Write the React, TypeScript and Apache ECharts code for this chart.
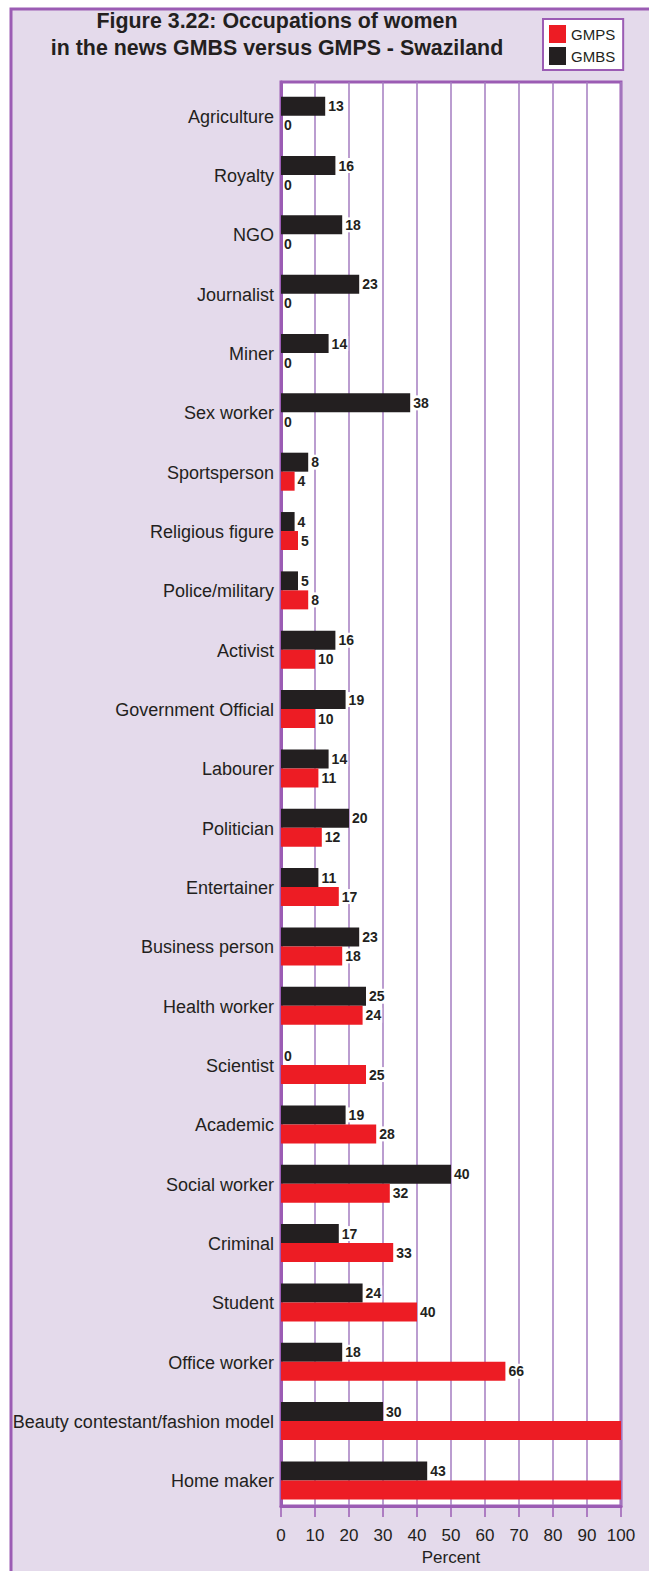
import React, { useEffect, useRef } from "react";
import * as echarts from "echarts";

const categories = [
  "Agriculture",
  "Royalty",
  "NGO",
  "Journalist",
  "Miner",
  "Sex worker",
  "Sportsperson",
  "Religious figure",
  "Police/military",
  "Activist",
  "Government Official",
  "Labourer",
  "Politician",
  "Entertainer",
  "Business person",
  "Health worker",
  "Scientist",
  "Academic",
  "Social worker",
  "Criminal",
  "Student",
  "Office worker",
  "Beauty contestant/fashion model",
  "Home maker",
];

// GMBS bar lengths as drawn (Social worker bar is drawn to 50 in the source, labelled 40)
const gmbsValues = [13, 16, 18, 23, 14, 38, 8, 4, 5, 16, 19, 14, 20, 11, 23, 25, 0, 19, 50, 17, 24, 18, 30, 43];
const gmbsLabels = ["13", "16", "18", "23", "14", "38", "8", "4", "5", "16", "19", "14", "20", "11", "23", "25", "0", "19", "40", "17", "24", "18", "30", "43"];
// GMPS (last two bars run off the scale, unlabelled)
const gmpsValues = [0, 0, 0, 0, 0, 0, 4, 5, 8, 10, 10, 11, 12, 17, 18, 24, 25, 28, 32, 33, 40, 66, 100, 100];
const gmpsLabelShown = [true, true, true, true, true, true, true, true, true, true, true, true, true, true, true, true, true, true, true, true, true, true, false, false];

const xTicks = { min: 0, max: 100, interval: 10 };

const PURPLE = "#9b5cb4";
const GRIDLINE = "#a57cc0";
const LAVENDER = "#e4daeb";
const INK = "#231f20";
const RED = "#ed1c24";
const FONT = "'Liberation Sans', Arial, sans-serif";

export default function App() {
  const ref = useRef<HTMLDivElement>(null);
  useEffect(() => {
    document.body.style.margin = "0";
    const chart = echarts.init(ref.current!, null, { renderer: "svg" });
    const valueLabel = {
      show: true,
      position: "right",
      distance: 2,
      fontFamily: FONT,
      fontWeight: "bold",
      fontSize: 14,
      color: INK,
      backgroundColor: "#fff",
      padding: [1, 1, 0, 1],
    };
    chart.setOption({
      animation: false,
      backgroundColor: "#ffffff",
      textStyle: { fontFamily: FONT },
      graphic: [
        {
          type: "rect",
          z: -1,
          shape: { x: 11, y: 9, width: 700, height: 1700 },
          style: { fill: LAVENDER, stroke: PURPLE, lineWidth: 3 },
        },
        {
          type: "text",
          x: 277,
          y: 7,
          scaleX: 0.93,
          style: {
            text: "Figure 3.22: Occupations of women\nin the news GMBS versus GMPS - Swaziland",
            fontFamily: FONT,
            fontWeight: "bold",
            fontSize: 23,
            lineHeight: 27,
            fill: INK,
            align: "center",
            verticalAlign: "top",
          },
        },
      ],
      legend: {
        left: 543,
        top: 19,
        orient: "vertical",
        data: ["GMPS", "GMBS"],
        backgroundColor: "#fff",
        borderColor: PURPLE,
        borderWidth: 2,
        borderRadius: 0,
        padding: [6, 8, 5, 6],
        itemWidth: 17,
        itemHeight: 18,
        itemGap: 4,
        icon: "rect",
        textStyle: { fontFamily: FONT, fontSize: 15, color: INK },
        selectedMode: false,
      },
      grid: {
        left: 281,
        right: 28,
        top: 82,
        bottom: 58,
        show: true,
        backgroundColor: "#fff",
        borderColor: PURPLE,
        borderWidth: 3,
      },
      xAxis: {
        type: "value",
        min: xTicks.min,
        max: xTicks.max,
        interval: xTicks.interval,
        name: "Percent",
        nameLocation: "middle",
        nameGap: 41,
        nameTextStyle: { fontFamily: FONT, fontSize: 17, color: INK },
        axisLine: { show: true, lineStyle: { color: PURPLE, width: 3 } },
        axisTick: { show: true, length: 11, lineStyle: { color: PURPLE, width: 1.5 } },
        axisLabel: { fontFamily: FONT, fontSize: 17, color: INK, margin: 21 },
        splitLine: { show: true, lineStyle: { color: GRIDLINE, width: 1.5 } },
      },
      yAxis: {
        type: "category",
        inverse: true,
        data: categories,
        axisLine: { show: true, lineStyle: { color: PURPLE, width: 3 } },
        axisTick: { show: false },
        axisLabel: {
          fontFamily: FONT,
          fontSize: 18,
          color: INK,
          margin: 7,
          verticalAlign: "top",
          lineHeight: 10,
        },
        splitLine: { show: false },
      },
      series: [
        {
          // empty spacer so the pair of bars sits a little below the band centre, as in the source
          name: "spacer",
          type: "bar",
          barWidth: 8,
          barGap: "0%",
          silent: true,
          itemStyle: { color: "transparent" },
          data: [],
        },
        {
          name: "GMBS",
          type: "bar",
          barWidth: 19,
          barGap: "0%",
          itemStyle: { color: INK },
          label: { ...valueLabel, formatter: (p: any) => gmbsLabels[p.dataIndex] },
          data: gmbsValues,
        },
        {
          name: "GMPS",
          type: "bar",
          barWidth: 19,
          barGap: "0%",
          itemStyle: { color: RED },
          label: valueLabel,
          data: gmpsValues.map((v, i) => ({ value: v, label: { show: gmpsLabelShown[i] } })),
        },
      ],
    });
    return () => chart.dispose();
  }, []);
  return <div ref={ref} style={{ width: 649, height: 1571, position: "absolute", left: 0, top: 0 }} />;
}
